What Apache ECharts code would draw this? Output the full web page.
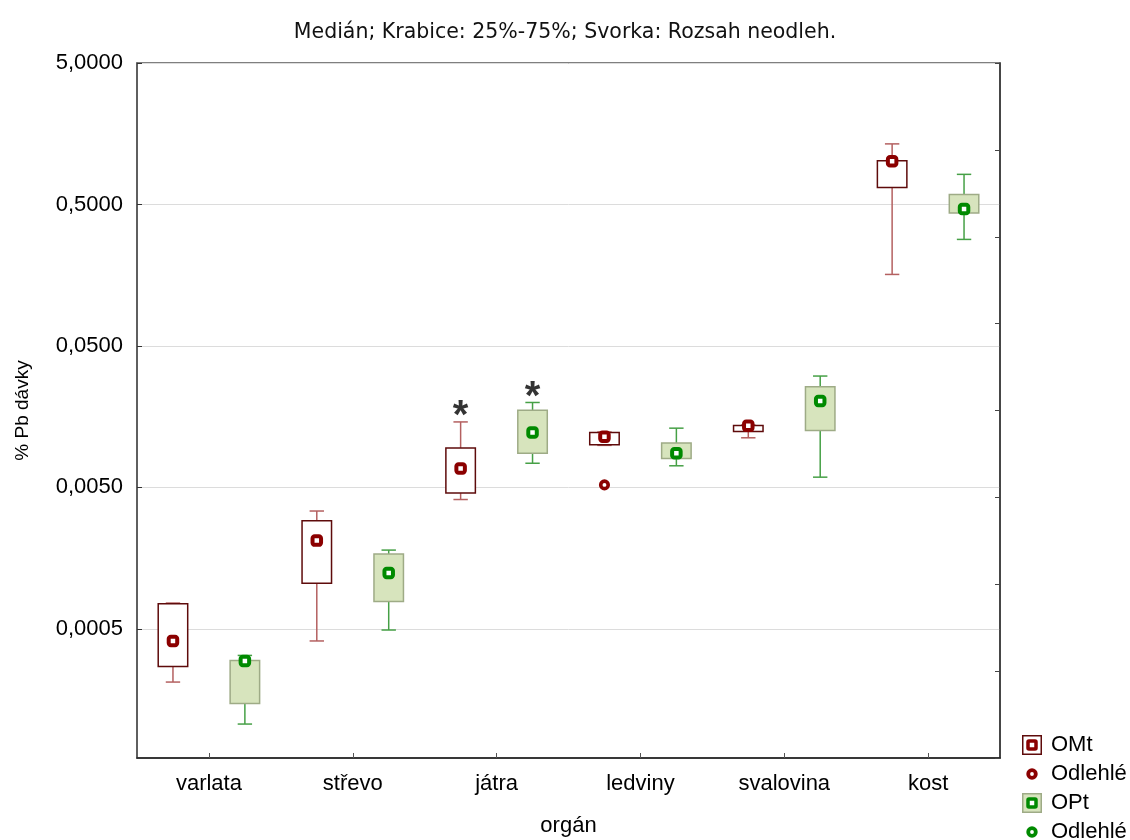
<!DOCTYPE html>
<html>
<head>
<meta charset="utf-8">
<script src="https://cdn.jsdelivr.net/npm/echarts@6/dist/echarts.min.js"></script>
<style>
  html, body { margin: 0; padding: 0; background: #ffffff; }
  #chart { width: 1130px; height: 840px; }
</style>
</head>
<body>
<div id="chart"></div>
<script>
// Organs on the x axis
const organs = ['varlata', 'střevo', 'játra', 'ledviny', 'svalovina', 'kost'];

// Box statistics per organ: [non-outlier min, 25 %, median, 75 %, non-outlier max]
const omtStats = [
  [0.00021, 0.00027, 0.00041, 0.00075, 0.00076],
  [0.00041, 0.00105, 0.0021, 0.0029, 0.0034],
  [0.0041, 0.00455, 0.0068, 0.0095, 0.0145],
  [0.0099, 0.0100, 0.0114, 0.0122, 0.0123],
  [0.0112, 0.0124, 0.0136, 0.0137, 0.0138],
  [0.16, 0.66, 1.01, 1.02, 1.34]
];
const optStats = [
  [0.000106, 0.000148, 0.000296, 0.000298, 0.000324],
  [0.00049, 0.00078, 0.00124, 0.00169, 0.0018],
  [0.0074, 0.0087, 0.0122, 0.0175, 0.0199],
  [0.0071, 0.0080, 0.0087, 0.0103, 0.0131],
  [0.0059, 0.0126, 0.0204, 0.0257, 0.0306],
  [0.283, 0.435, 0.464, 0.589, 0.816]
];

// Outliers: [organ index, value]
const omtOutliers = [[3, 0.0052]];
const optOutliers = [];

// Organs flagged with an asterisk above the whisker
const starredOrgans = [2];

// Y axis (log) ticks and range
const yTickValues = [0.0005, 0.005, 0.05, 0.5, 5];
const yMin = 6.1e-5;
const yMax = 5;

const FONT = '"Liberation Sans", Arial, sans-serif';
const OMT = { edge: '#5e0b0b', fill: '#ffffff', whisker: '#b46060', marker: '#8b0000' };
const OPT = { edge: '#9eab86', fill: '#d7e4bd', whisker: '#46a046', marker: '#008a00' };

// two slots per organ on a hidden axis: OMt on the left, OPt on the right
const slots = organs.flatMap(o => [o + ' OMt', o + ' OPt']);
const slotOf = (organIndex, group) => organIndex * 2 + group;

function boxData(stats, group) {
  return stats.map((s, i) => [slotOf(i, group)].concat(s));
}
function medianData(stats, group) {
  return stats.map((s, i) => [slotOf(i, group), s[2]]);
}
function outlierData(list, group) {
  return list.map(([i, v]) => [slotOf(i, group), v]);
}
function starData(stats, group) {
  return starredOrgans.map(i => [slotOf(i, group), stats[i][4]]);
}

function renderBox(c) {
  return function (params, api) {
    const slot = api.value(0);
    const band = api.size([1, 0])[0];
    const y = v => api.coord([slot, v])[1];
    const cx = api.coord([slot, api.value(3)])[0];
    const yLow = y(api.value(1)), yQ1 = y(api.value(2));
    const yQ3 = y(api.value(4)), yHigh = y(api.value(5));
    const bw = band * 0.41, cw = band * 0.2;
    const wStyle = { stroke: c.whisker, lineWidth: 1.5 };
    return {
      type: 'group',
      children: [
        { type: 'line', shape: { x1: cx, y1: yHigh, x2: cx, y2: yQ3 }, style: wStyle },
        { type: 'line', shape: { x1: cx, y1: yQ1, x2: cx, y2: yLow }, style: wStyle },
        { type: 'line', shape: { x1: cx - cw / 2, y1: yHigh, x2: cx + cw / 2, y2: yHigh }, style: wStyle },
        { type: 'line', shape: { x1: cx - cw / 2, y1: yLow, x2: cx + cw / 2, y2: yLow }, style: wStyle },
        {
          type: 'rect',
          shape: { x: cx - bw / 2, y: yQ3, width: bw, height: Math.max(yQ1 - yQ3, 1) },
          style: { fill: c.fill, stroke: c.edge, lineWidth: 1.5 }
        }
      ]
    };
  };
}

// legend icons
function svgIcon(body) {
  return 'image://data:image/svg+xml;charset=utf-8,' + encodeURIComponent(
    "<svg xmlns='http://www.w3.org/2000/svg' width='20' height='20' viewBox='0 0 20 20'>" + body + '</svg>');
}
function boxIcon(c) {
  return svgIcon(
    `<rect x='0.75' y='0.75' width='18.5' height='18.5' fill='${c.fill}' stroke='${c.edge}' stroke-width='1.5'/>` +
    `<rect x='6' y='6' width='8' height='8' rx='1' fill='#ffffff' stroke='${c.marker}' stroke-width='3.5'/>`);
}
function ringIcon(c) {
  return svgIcon(`<circle cx='10' cy='10' r='3.8' fill='#ffffff' stroke='${c.marker}' stroke-width='3.8'/>`);
}
function legendRow(name, icon, top) {
  return {
    data: [{ name: name, icon: icon }],
    orient: 'vertical', left: 1022, top: top,
    itemWidth: 20, itemHeight: 20, padding: 0,
    selectedMode: false,
    textStyle: { fontFamily: FONT, fontSize: 22, color: '#000', padding: [0, 0, 0, 4] }
  };
}

const fmt = v => v.toFixed(4).replace('.', ',');

const chart = echarts.init(document.getElementById('chart'), null, { renderer: 'canvas' });
chart.setOption({
  animation: false,
  backgroundColor: '#ffffff',
  title: {
    text: 'Medián; Krabice: 25%-75%; Svorka: Rozsah neodleh.',
    left: 'center', top: 22, padding: 0,
    textStyle: { fontFamily: '"DejaVu Sans", sans-serif', fontSize: 20.5, fontWeight: 'normal', color: '#111' }
  },
  legend: [
    legendRow('OMt', boxIcon(OMT), 734),
    legendRow('Odlehlé', ringIcon(OMT), 763),
    legendRow('OPt', boxIcon(OPT), 792),
    legendRow('Odlehlé', ringIcon(OPT), 821)
  ],
  grid: { left: 137, right: 130, top: 63, bottom: 82, containLabel: false, outerBoundsMode: 'none',
          show: true, borderColor: '#555', borderWidth: 1.5, backgroundColor: 'transparent' },
  xAxis: [
    {
      type: 'category', data: organs, position: 'bottom',
      name: 'orgán', nameLocation: 'middle', nameGap: 57,
      nameTextStyle: { fontFamily: FONT, fontSize: 22, color: '#000' },
      axisLine: { show: true, lineStyle: { color: '#222', width: 1.5 } },
      axisTick: { show: true, inside: true, alignWithLabel: true, length: 5, lineStyle: { color: '#555' } },
      axisLabel: { fontFamily: FONT, fontSize: 22, color: '#000', margin: 15 },
      splitLine: { show: false }
    },
    {
      type: 'category', data: slots, show: false
    }
  ],
  yAxis: [
    {
      type: 'log', logBase: 10, min: yMin, max: yMax, position: 'left',
      name: '% Pb dávky', nameLocation: 'middle', nameGap: 105,
      nameTextStyle: { fontFamily: FONT, fontSize: 19, color: '#000' },
      axisLine: { show: true, lineStyle: { color: '#555', width: 1.5 } },
      axisTick: { show: true, inside: true, length: 5, customValues: yTickValues, lineStyle: { color: '#333' } },
      axisLabel: { fontFamily: FONT, fontSize: 22, color: '#000', margin: 14, customValues: yTickValues, formatter: fmt },
      splitLine: { show: true, lineStyle: { color: '#dcdcdc', width: 1 } },
      minorTick: { show: false }
    },
    {
      type: 'value', min: 0, max: 8, interval: 1, position: 'right',
      axisLine: { show: true, lineStyle: { color: '#333', width: 1.5 } },
      axisTick: { show: true, inside: true, length: 5, lineStyle: { color: '#444' } },
      axisLabel: { show: false },
      splitLine: { show: false }
    }
  ],
  series: [
    {
      name: 'OMt', type: 'custom', xAxisIndex: 1, yAxisIndex: 0, z: 2,
      renderItem: renderBox(OMT), encode: { x: 0, y: [1, 2, 3, 4, 5] },
      data: boxData(omtStats, 0)
    },
    {
      name: 'OPt', type: 'custom', xAxisIndex: 1, yAxisIndex: 0, z: 2,
      renderItem: renderBox(OPT), encode: { x: 0, y: [1, 2, 3, 4, 5] },
      data: boxData(optStats, 1)
    },
    {
      name: 'OMt', type: 'scatter', xAxisIndex: 1, yAxisIndex: 0, z: 3,
      symbol: 'roundRect', symbolSize: 8.5,
      itemStyle: { color: '#ffffff', borderColor: OMT.marker, borderWidth: 4, opacity: 1 },
      data: medianData(omtStats, 0)
    },
    {
      name: 'OPt', type: 'scatter', xAxisIndex: 1, yAxisIndex: 0, z: 3,
      symbol: 'roundRect', symbolSize: 8.5,
      itemStyle: { color: '#ffffff', borderColor: OPT.marker, borderWidth: 4, opacity: 1 },
      data: medianData(optStats, 1)
    },
    {
      name: 'Odlehlé', type: 'scatter', xAxisIndex: 1, yAxisIndex: 0, z: 3,
      symbol: 'circle', symbolSize: 7.5,
      itemStyle: { color: '#ffffff', borderColor: OMT.marker, borderWidth: 3.6, opacity: 1 },
      data: outlierData(omtOutliers, 0)
    },
    {
      name: 'Odlehlé', type: 'scatter', xAxisIndex: 1, yAxisIndex: 0, z: 3,
      symbol: 'circle', symbolSize: 7.5,
      itemStyle: { color: '#ffffff', borderColor: OPT.marker, borderWidth: 3.6, opacity: 1 },
      data: outlierData(optOutliers, 1)
    },
    {
      name: 'extrémy', type: 'scatter', xAxisIndex: 1, yAxisIndex: 0, z: 4,
      symbolSize: 1, itemStyle: { color: 'rgba(0,0,0,0)' },
      label: {
        show: true, formatter: '*', position: 'inside', offset: [0, -5],
        fontFamily: FONT, fontSize: 40, fontWeight: 'bold', color: '#000'
      },
      data: starData(omtStats, 0).concat(starData(optStats, 1))
    }
  ]
});
</script>
</body>
</html>
